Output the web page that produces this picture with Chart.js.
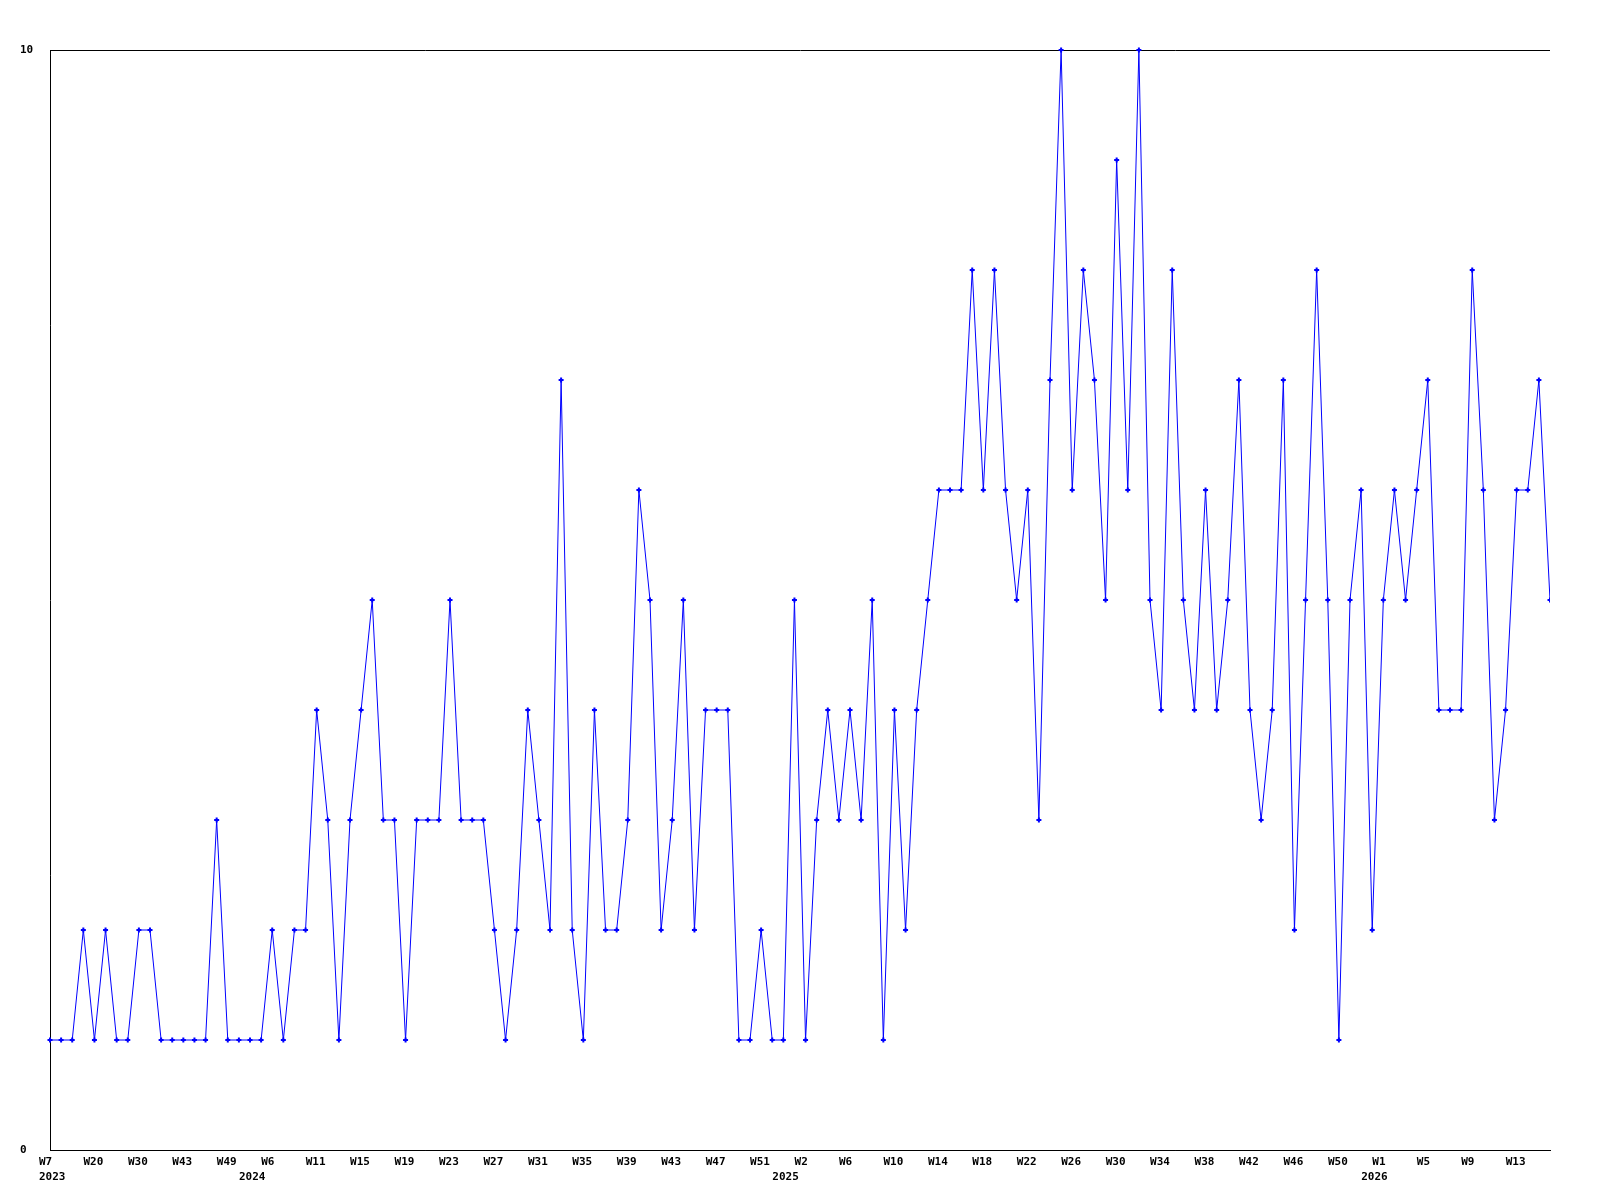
<!DOCTYPE html>
<html>
<head>
<meta charset="utf-8">
<script src="https://cdn.jsdelivr.net/npm/chart.js@4/dist/chart.umd.min.js"></script>
<style>
  html, body { margin: 0; padding: 0; background: #ffffff; }
  canvas { display: block; }
</style>
</head>
<body>
<canvas id="c" width="1600" height="1200"></canvas>
<script>
// Week label of every data point (category axis, one entry per point)
const weekLabels = [
  // 2023
  'W7','W9','W12','W16','W20','W22','W25','W28','W30','W33','W37','W40','W43','W44','W46','W47','W49','W51',
  // 2024
  'W2','W4','W6','W7','W9','W10','W11','W12','W13','W14','W15','W16','W17','W18','W19','W20',
  'W21','W22','W23','W24','W25','W26','W27','W28','W29','W30','W31','W32','W33','W34','W35','W36',
  'W37','W38','W39','W40','W41','W42','W43','W44','W45','W46','W47','W48','W49','W50','W51','W52',
  // 2025
  'W0','W1','W2','W3','W4','W5','W6','W7','W8','W9','W10','W11','W12','W13','W14','W15','W16','W17',
  'W18','W19','W20','W21','W22','W23','W24','W25','W26','W27','W28','W29','W30','W31','W32','W33',
  'W34','W35','W36','W37','W38','W39','W40','W41','W42','W43','W44','W45','W46','W47','W48','W49',
  'W50','W51','W52',
  // 2026
  'W0','W1','W2','W3','W4','W5','W6','W7','W8','W9','W10','W11','W12','W13','W14','W15','W16'
];

// Year of every data point
const yearLabels = [].concat(
  Array(18).fill('2023'),
  Array(48).fill('2024'),
  Array(53).fill('2025'),
  Array(17).fill('2026')
);

// Weekly counts
const values = [
  1,1,1,2,1,2,1,1,2,2,1,1,1,1,1,3,1,1,
  1,1,2,1,2,2,4,3,1,3,4,5,3,3,1,3,3,3,5,3,3,3,2,1,2,4,3,2,7,2,1,4,2,2,3,6,5,2,3,5,2,4,4,4,1,1,2,1,
  1,5,1,3,4,3,4,3,5,1,4,2,4,5,6,6,6,8,6,8,6,5,6,3,7,10,6,8,7,5,9,6,10,5,4,8,5,4,6,4,5,7,4,3,4,7,2,5,8,5,1,5,6,
  2,5,6,5,6,7,4,4,4,8,6,3,4,6,6,7,5
];

// Y axis tick values
const yTicks = [0, 10];

const tickFont = { family: 'DejaVu Sans Mono', size: 11, weight: 'bold', lineHeight: '15px' };

new Chart(document.getElementById('c'), {
  type: 'line',
  data: {
    labels: weekLabels,
    datasets: [{
      data: values,
      borderColor: '#0000ff',
      backgroundColor: '#0000ff',
      borderWidth: 1,
      tension: 0,
      fill: false,
      pointStyle: 'cross',
      pointRadius: 2.5,
      pointBorderWidth: 2,
      pointBorderColor: '#0000ff',
      pointBackgroundColor: '#0000ff',
      pointHoverRadius: 2.5,
      clip: { left: 6, top: 6, right: 0, bottom: 6 }
    }]
  },
  options: {
    responsive: false,
    animation: false,
    devicePixelRatio: 1,
    layout: { padding: { left: 20, top: 50, right: 50, bottom: 0 } },
    plugins: {
      legend: { display: false },
      tooltip: { enabled: false },
      title: { display: false }
    },
    scales: {
      x: {
        type: 'category',
        offset: false,
        grid: { display: false, drawTicks: false },
        border: { display: true, color: '#000000', width: 1 },
        ticks: {
          autoSkip: false,
          maxRotation: 0,
          minRotation: 0,
          align: 'start',
          labelOffset: -11,
          padding: 5,
          color: '#000000',
          font: tickFont,
          callback: function (value, index) {
            const wk = index % 4 === 0 ? weekLabels[index] : '';
            const newYear = index === 0 || yearLabels[index] !== yearLabels[index - 1];
            if (newYear) return [wk, yearLabels[index]];
            return wk;
          }
        },
        afterFit: function (scale) { scale.height = 50; }
      },
      y: {
        min: yTicks[0],
        max: yTicks[yTicks.length - 1],
        grid: { display: true, color: '#000000', lineWidth: 1, drawTicks: false },
        border: { display: true, color: '#000000', width: 1 },
        afterBuildTicks: function (scale) { scale.ticks = yTicks.map(v => ({ value: v })); },
        ticks: {
          crossAlign: 'far',
          padding: 4,
          color: '#000000',
          font: tickFont
        },
        afterFit: function (scale) { scale.width = 30; }
      }
    }
  }
});
</script>
</body>
</html>
